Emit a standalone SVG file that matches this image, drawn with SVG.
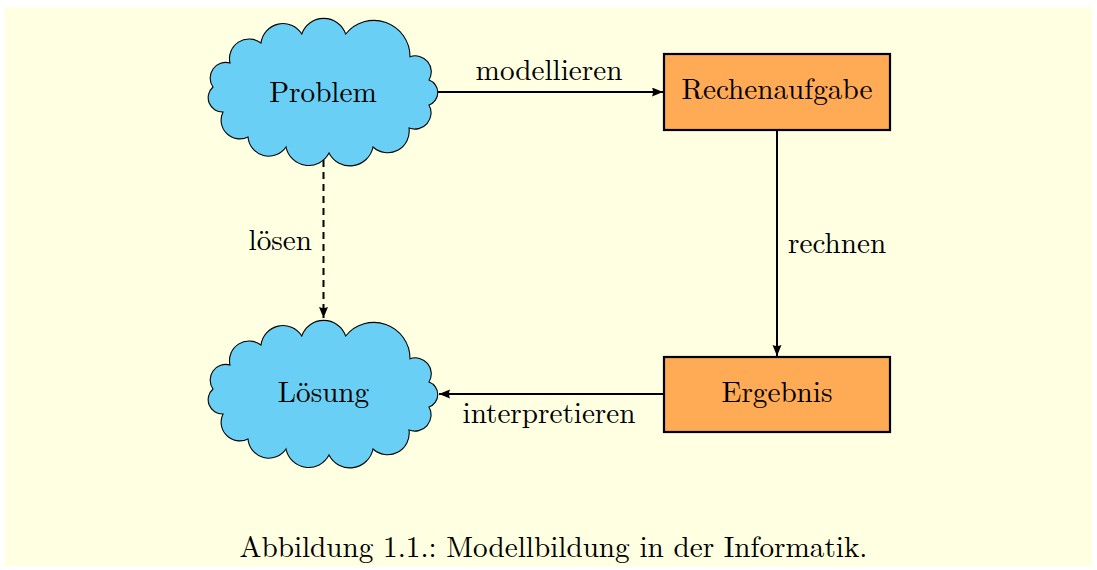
<svg xmlns="http://www.w3.org/2000/svg" width="1097" height="570" viewBox="0 0 1097 570">
  <style>
    .t { font-family: 'Latin Modern Roman', 'Liberation Serif', serif; font-size: 29.2px; fill: #000; }
    .cloud { fill: #69CFF5; stroke: #000; stroke-width: 1.1; }
    .box { fill: #FFAA55; stroke: #000; stroke-width: 2.2; }
    .edge { fill: none; stroke: #000; stroke-width: 2; }
    .dash { stroke-dasharray: 7 5; }
  </style>
  <defs>
    <marker id="arr" markerUnits="userSpaceOnUse" markerWidth="12" markerHeight="10" refX="11" refY="4.5" orient="auto">
      <path d="M0,0 L11,4.5 L0,9 Q2,4.5 0,0 z" fill="#000"/>
    </marker>
    <path id="cloudShape" d="M261,43 A22.1,22.1 0 0 1 301.7,34 A23.3,23.3 0 0 1 345.7,34 A36.1,36.1 0 0 1 410,56.7 A16,16 0 0 1 429,80 A13.3,13.3 0 0 1 429,105 A16.2,16.2 0 0 1 409,128 A21.6,21.6 0 0 1 373,147 A23.5,23.5 0 0 1 329,153 A23,23 0 0 1 286,147 A20.8,20.8 0 0 1 248,137 A18.7,18.7 0 0 1 223,112 A14.3,14.3 0 0 1 213,87 A15.6,15.6 0 0 1 230,63 A19.6,19.6 0 0 1 261,43 Z"/>
  </defs>
  <rect x="0" y="0" width="1097" height="570" fill="#FFFFFF"/>
  <rect x="5" y="7" width="1087" height="559" fill="#FFFFE1"/>

  <g id="connectors">
    <line class="edge" x1="438" y1="92" x2="663" y2="92" marker-end="url(#arr)"/>
    <text class="t" font-family="Latin Modern Roman" x="549" y="80" text-anchor="middle">modellieren</text>
    <line class="edge" x1="777" y1="130" x2="777" y2="356" marker-end="url(#arr)"/>
    <text class="t" font-family="Latin Modern Roman" x="788" y="253">rechnen</text>
    <line class="edge" x1="664" y1="394" x2="439" y2="394" marker-end="url(#arr)"/>
    <text class="t" font-family="Latin Modern Roman" x="549" y="423" text-anchor="middle">interpretieren</text>
    <line class="edge dash" x1="323.5" y1="160" x2="323.5" y2="318" marker-end="url(#arr)"/>
    <text class="t" font-family="Latin Modern Roman" x="312" y="250" text-anchor="end">lösen</text>
  </g>

  <g id="problem">
    <use href="#cloudShape" class="cloud"/>
    <text class="t" font-family="Latin Modern Roman" x="323" y="102" text-anchor="middle">Problem</text>
  </g>
  <g id="loesung">
    <use href="#cloudShape" class="cloud" transform="translate(0,302)"/>
    <text class="t" font-family="Latin Modern Roman" x="323.5" y="402" text-anchor="middle">Lösung</text>
  </g>
  <g id="rechenaufgabe">
    <rect class="box" x="664" y="54" width="226" height="76"/>
    <text class="t" font-family="Latin Modern Roman" x="777" y="99" text-anchor="middle">Rechenaufgabe</text>
  </g>
  <g id="ergebnis">
    <rect class="box" x="664" y="357" width="226" height="75"/>
    <text class="t" font-family="Latin Modern Roman" x="777" y="402" text-anchor="middle">Ergebnis</text>
  </g>

  <text id="caption" class="t" font-family="Latin Modern Roman" x="553.5" y="557" text-anchor="middle">Abbildung 1.1.: Modellbildung in der Informatik.</text>
</svg>
